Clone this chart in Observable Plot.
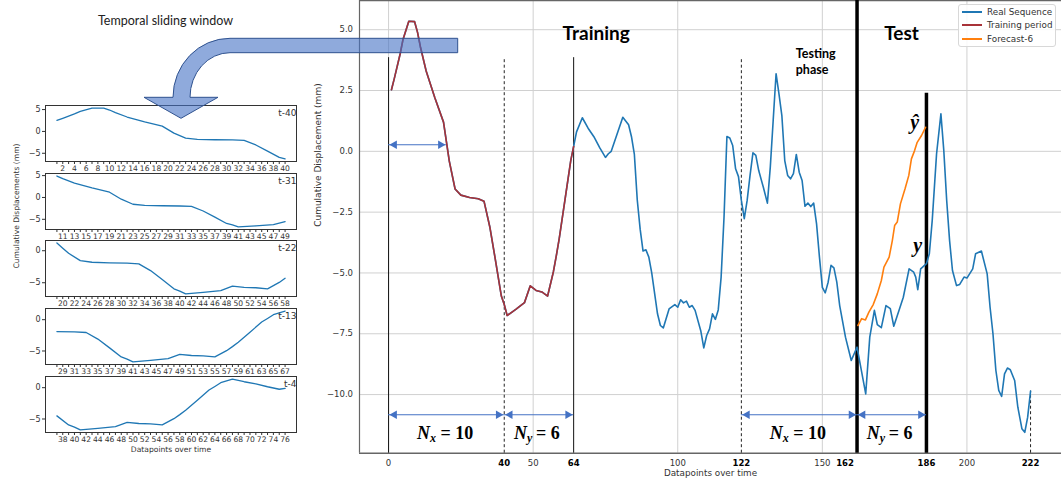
<!DOCTYPE html>
<html><head><meta charset="utf-8">
<script src="https://cdn.jsdelivr.net/npm/d3@7"></script>
<script src="https://cdn.jsdelivr.net/npm/@observablehq/plot@0.6"></script>
<style>
body{margin:0;background:#fff;}
#wrap{position:relative;width:1061px;height:488px;overflow:hidden;font-family:"DejaVu Sans",sans-serif;}
#wrap > svg, #wrap > div{position:absolute;}
</style></head><body><div id="wrap"></div>
<script>
// ---------------- DATA ----------------
const seqX = [1,2,4,5,7,9,10,11,13,16,19,20,21,23,25,28,31,33,35,37,39,40,41,44,47,49,51,53,55,57,58,59,61,63,64,65,67,69,71,73,75,76,77,79,81,83,84,85,86,87,88,89,90,91,93,94,95,97,99,100,101,102,103,104,105,106,108,109,110,111,112,113,114,115,116,117,118,119,120,121,122,123,124,125,126,127,128,129.6,131,132,133,134,135,136,137,138,139,140,141,142,143,144,145,146,147,148,149,150,151,152,153,154,155,156,158,160,162,165,166.4,168,169,170.4,172,173.5,174.7,176.5,178,180,181.6,182.3,183,184,186,187,188,189.5,191,192,193,194,195,196.4,197.5,199,200,202,203,205,207,208,209,210,211,212,213,214,215,216.5,217.6,219,220,221,222];
const seqY = [2.53,3.0,4.0,4.6,5.35,5.33,4.9,4.3,3.3,2.2,1.2,0.4,-0.4,-1.55,-1.8,-1.9,-1.95,-2.05,-3.1,-4.5,-5.95,-6.3,-6.75,-6.5,-6.22,-5.53,-5.72,-5.78,-5.95,-4.95,-4.3,-3.6,-2.0,-0.38,0.2,0.8,1.38,0.95,0.6,0.15,-0.25,-0.1,0.0,0.7,1.4,1.09,0.6,-0.13,-2.0,-3.2,-4.1,-4.05,-4.35,-5.0,-6.68,-7.16,-7.26,-6.48,-6.3,-6.41,-6.1,-6.23,-6.16,-6.41,-6.34,-6.54,-7.4,-8.08,-7.57,-7.3,-6.68,-6.91,-6.52,-5.17,-2.71,0.61,0.55,0.24,-0.72,-1.04,-2.02,-2.77,-2.02,-0.99,-0.06,-0.17,-0.79,-1.48,-2.13,-0.65,1.27,3.19,2.36,1.47,-0.38,-0.99,-1.13,-0.92,-0.13,-0.86,-1.2,-2.26,-2.13,-2.27,-2.13,-2.98,-4.35,-5.59,-5.82,-5.38,-4.69,-4.79,-5.38,-6.34,-7.64,-8.6,-8.05,-9.97,-7.64,-6.54,-7.12,-7.25,-6.34,-6.47,-7.19,-6.54,-6.0,-4.83,-4.97,-5.17,-5.69,-4.83,-4.62,-4.21,-2.84,-0.1,1.54,0.03,-2.02,-3.67,-4.9,-5.52,-5.47,-5.17,-5.21,-4.83,-4.21,-4.1,-5.04,-6.41,-7.5,-9.0,-9.83,-10.08,-9.15,-8.91,-8.98,-9.42,-10.52,-11.4,-11.55,-10.93,-9.86];
const trainEnd = 64;
const fcX = [162.3,163.6,164.9,166.1,167.6,169,170.4,171.3,173.1,174.2,175,175.9,177,178.6,179.9,180.8,181.9,182.8,184.3,185.7];
const fcY = [-7.16,-6.88,-6.93,-6.61,-6.3,-5.86,-5.31,-4.76,-4.35,-3.67,-3.05,-2.91,-2.16,-1.54,-0.99,-0.31,0.03,0.37,0.65,0.99];

const legendNames = ["Real Sequence","Training period","Forecast-6"];
const xLabel = "Datapoints over time";
const yLabel = "Cumulative Displacement (mm)";
const gridXTicks = [0,50,100,150,200];
const yTicks = [5,2.5,0,-2.5,-5,-7.5,-10];
const boldTicks = [40,64,122,186,222];
const boldShiftedTicks = [162];

const thinRules = [{x:0, top:3.85},{x:64, top:3.85}];
const dashedRules = [{x:40, top:3.85},{x:122, top:3.85},{x:222, top:-9.86}];
const thickRules = [{x:162, top:6.2},{x:186, top:2.39}];

const spansNx = [{a:0,b:40,v:"10"},{a:122,b:162,v:"10"}];
const spansNy = [{a:40,b:64,v:"6"},{a:162,b:186,v:"6"}];
const spanY = -10.83, spanLabelY = -11.6;
const shortSpan = [{a:0,b:20,y:0.27}];

const titles = [{x:71.8,y:4.83,t:"Training"},{x:177.4,y:4.83,t:"Test"}];
const phaseNote = [{x:140.8,y:3.73,t:"Testing\nphase"}];
const yHat = [{x:181.9,y:1.2,t:"ŷ"}];
const yReal = [{x:183,y:-3.87,t:"y"}];

const windowStarts = [1,10,19,28,37];
const windowLen = 40;
const windowLabels = ["t-40","t-31","t-22","t-13","t-4"];
const smallYTicks = [5,0,-5];
const leftYLabel = "Cumulative Displacements (mm)";
const sliderTitle = "Temporal sliding window";

// ---------------- STYLES ----------------
const BLUE = "#1f77b4", RED = "#a83238", ORANGE = "#ff7f0e", ARROW = "#4472c4";
const wrap = document.getElementById("wrap");

const seq = seqX.map((x,i)=>({x, y:seqY[i]}));
const train = seq.filter(d => d.x <= trainEnd);
const fc = fcX.map((x,i)=>({x, y:fcY[i]}));

const xDomain = [-10.05, 232.7];
const yDomain = [-12.41, 6.2];
const serifBI = {fontFamily:"Liberation Serif", fontWeight:"bold", fontStyle:"italic"};

function spanMarks(spans, y) {
  return [
    Plot.ruleY(spans, {y: d => d.y ?? y, x1: "a", x2: "b", stroke: ARROW, strokeWidth: 1.2}),
    Plot.dot(spans, {x: "a", y: d => d.y ?? y, symbol: "triangle", r: 3.2, rotate: -90, dx: 5.8, fill: ARROW, stroke: "none"}),
    Plot.dot(spans, {x: "b", y: d => d.y ?? y, symbol: "triangle", r: 3.2, rotate: 90, dx: -5.8, fill: ARROW, stroke: "none"})
  ];
}
function nLabel(spans, sub, offs) {
  const cx = d => (d.a + d.b) / 2;
  return [
    Plot.text(spans, {x: cx, y: () => spanLabelY, text: () => "N", textAnchor: "start", dx: offs[0], fontSize: 18, ...serifBI, fill: "#000"}),
    Plot.text(spans, {x: cx, y: () => spanLabelY, text: () => sub, textAnchor: "start", dx: offs[1], dy: 5, fontSize: 12, ...serifBI, fill: "#000"}),
    Plot.text(spans, {x: cx, y: () => spanLabelY, text: d => "= " + d.v, textAnchor: "start", dx: offs[2], fontSize: 18, fontFamily: "Liberation Serif", fontWeight: "bold", fill: "#000"})
  ];
}

const main = Plot.plot({
  width: 761, height: 488,
  marginLeft: 59, marginRight: 0, marginTop: 0, marginBottom: 35.3,
  x: {domain: xDomain}, y: {domain: yDomain},
  style: {fontFamily: "DejaVu Sans", fontSize: "8.5px", color: "#333", background: "transparent", overflow: "visible"},
  marks: [
    Plot.gridX(gridXTicks, {stroke: "#d0d0d0", strokeOpacity: 1, strokeWidth: 1}),
    Plot.gridY(yTicks, {stroke: "#d0d0d0", strokeOpacity: 1, strokeWidth: 1}),
    Plot.ruleX([xDomain[0]], {stroke: "#666", strokeWidth: 1.2}),
    Plot.ruleY(yDomain, {stroke: "#666", strokeWidth: 1.5}),
    Plot.ruleX(thinRules, {x: "x", y1: () => yDomain[0], y2: "top", stroke: "#111", strokeWidth: 1}),
    Plot.ruleX(dashedRules, {x: "x", y1: () => yDomain[0], y2: "top", stroke: "#222", strokeWidth: 1, strokeDasharray: "3,2.5"}),
    Plot.ruleX(thickRules, {x: "x", y1: () => yDomain[0], y2: "top", stroke: "#000", strokeWidth: 3.5}),
    Plot.line(seq, {x: "x", y: "y", stroke: BLUE, strokeWidth: 1.6}),
    Plot.line(train, {x: "x", y: "y", stroke: RED, strokeWidth: 1.6}),
    Plot.line(fc, {x: "x", y: "y", stroke: ORANGE, strokeWidth: 1.6}),
    ...spanMarks(spansNx, spanY),
    ...spanMarks(spansNy, spanY),
    ...spanMarks(shortSpan),
    ...nLabel(spansNx, "x", [-29.5, -16.5, -6]),
    ...nLabel(spansNy, "y", [-25, -12, -3]),
    Plot.text(titles, {x: "x", y: "y", text: "t", fontFamily: "Lato", fontWeight: "bold", fontSize: 19, fill: "#000"}),
    Plot.text(phaseNote, {x: "x", y: "y", text: "t", textAnchor: "start", fontFamily: "Lato", fontWeight: "bold", fontSize: 12.5, lineHeight: 1.33, fill: "#000"}),
    Plot.text(yHat, {x: "x", y: "y", text: "t", fontSize: 20, ...serifBI, fill: "#000"}),
    Plot.text(yReal, {x: "x", y: "y", text: "t", fontSize: 20, ...serifBI, fill: "#000"}),
    Plot.axisX(gridXTicks, {tickSize: 0, tickPadding: 6.5, label: null, fill: "#333"}),
    Plot.axisX(boldTicks, {tickSize: 0, tickPadding: 6.5, label: null, fontWeight: "bold", fill: "#000"}),
    Plot.axisX(boldShiftedTicks, {tickSize: 0, tickPadding: 6.5, label: null, fontWeight: "bold", fill: "#000", dx: -12}),
    Plot.axisY(yTicks, {tickSize: 0, tickPadding: 6.5, label: null, tickFormat: d3.format(".1f"), fill: "#333"}),
    Plot.text([xLabel], {frameAnchor: "bottom", dy: 23, fontSize: 8.8, fill: "#333"}),
    Plot.text([yLabel], {frameAnchor: "left", dx: -41.5, rotate: -90, fontSize: 9, fill: "#333"})
  ]
});
main.style.left = "300px"; main.style.top = "0px";
wrap.appendChild(main);

// ---- left panels (windows of the same sequence) ----
const panelTop0 = 105, panelStep = 67.7, panelH = 56;
windowStarts.forEach((s, i) => {
  const e = s + windowLen - 1;
  const pts = seq.filter(d => d.x >= s && d.x <= e);
  const ext = d3.extent(pts, d => d.y), r = ext[1] - ext[0];
  const yd = [ext[0] - 0.05 * r, ext[1] + 0.05 * r];
  const xd = [s - 0.05 * (e - s), e + 0.05 * (e - s)];
  const marks = [
    Plot.frame({stroke: "#333", strokeWidth: 1}),
    Plot.line(pts, {x: "x", y: "y", stroke: BLUE, strokeWidth: 1.3}),
    Plot.axisX(d3.range(s, e + 1), {tickSize: 3, tickPadding: 1.5, label: null, tickFormat: d => (d - s) % 2 === 1 ? d : "", fontSize: 7.6, fill: "#333"}),
    Plot.axisY(smallYTicks.filter(v => v >= yd[0] && v <= yd[1]), {tickSize: 3, tickPadding: 2, label: null, tickFormat: d3.format("d"), fontSize: 8, fill: "#333"}),
    Plot.text([windowLabels[i]], {frameAnchor: "top-right", dy: 4, fontSize: 9, fill: "#333"})
  ];
  if (i === 2) marks.push(Plot.text([leftYLabel], {frameAnchor: "left", dx: -29, rotate: -90, fontSize: 7.6, fill: "#333"}));
  if (i === 4) marks.push(Plot.text([xLabel], {frameAnchor: "bottom", dy: 19, fontSize: 7.6, fill: "#333"}));
  const p = Plot.plot({
    width: 300, height: 72,
    marginLeft: 45, marginRight: 4, marginTop: 2, marginBottom: 14,
    x: {domain: xd}, y: {domain: yd},
    style: {fontFamily: "DejaVu Sans", fontSize: "8px", color: "#333", background: "transparent", overflow: "visible"},
    marks
  });
  p.style.left = "0px"; p.style.top = (panelTop0 + i * panelStep - 2) + "px";
  wrap.appendChild(p);
});

// ---- decorative curved block arrow + caption ----
const ov = d3.create("svg").attr("width", 1061).attr("height", 488).style("left", "0px").style("top", "0px").style("pointer-events", "none").style("overflow", "visible");
ov.append("path")
  .attr("d", "M457.7,38.3 L230,38.3 A57,59 0 0 0 173,97.3 L144,97.3 L181,118.3 L218,97.3 L190,97.3 A40,44.6 0 0 1 230,52.7 L457.7,52.7 Z")
  .attr("fill", ARROW).attr("fill-opacity", 0.6).attr("stroke", "#2f528f").attr("stroke-width", 1);
ov.append("text").attr("x", 165.5).attr("y", 22).attr("text-anchor", "middle").attr("dominant-baseline", "middle")
  .attr("font-family", "Lato").attr("font-size", 12.5).attr("fill", "#222").text(sliderTitle);
wrap.appendChild(ov.node());

// ---- legend ----
const lg = document.createElement("div");
lg.style.cssText = "left:958px;top:4px;width:98px;height:43px;border:1px solid #d8d8d8;border-radius:3px;background:rgba(255,255,255,0.85);box-sizing:border-box;";
[BLUE, RED, ORANGE].forEach((c, i) => {
  const yc = Math.round(7 + 13.35 * i);
  const sw = document.createElement("div");
  sw.style.cssText = `position:absolute;left:3px;top:${yc - 1}px;width:20px;height:2px;background:${c};`;
  const tx = document.createElement("div");
  tx.style.cssText = `position:absolute;left:28px;top:${yc - 6}px;line-height:12px;font-size:8.8px;color:#333;white-space:nowrap;font-family:'DejaVu Sans';`;
  tx.textContent = legendNames[i];
  lg.appendChild(sw); lg.appendChild(tx);
});
wrap.appendChild(lg);
</script>
</body></html>
